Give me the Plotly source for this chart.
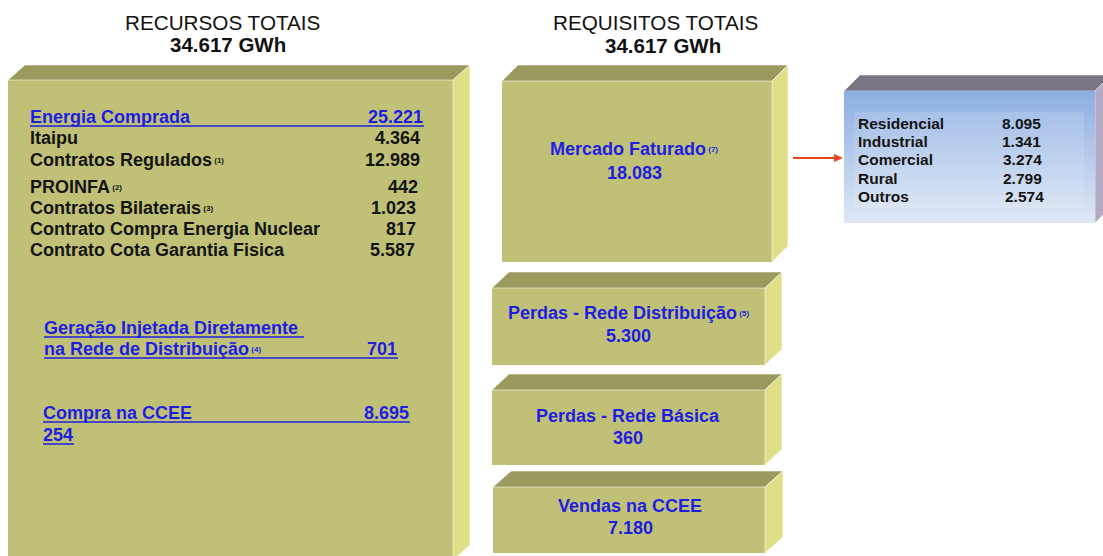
import plotly.graph_objects as go

# ---------------- data ----------------
title_left = "RECURSOS TOTAIS"
title_right = "REQUISITOS TOTAIS"
total_left = "34.617 GWh"
total_right = "34.617 GWh"

energia_label = "Energia Comprada"
energia_value = "25.221"
recursos_labels = ["Itaipu", "Contratos Regulados", "PROINFA", "Contratos Bilaterais",
                   "Contrato Compra Energia Nuclear", "Contrato Cota Garantia Fisica"]
recursos_notes = ["", "(1)", "(2)", "(3)", "", ""]
recursos_values = ["4.364", "12.989", "442", "1.023", "817", "5.587"]

geracao_lines = ["Geração Injetada Diretamente", "na Rede de Distribuição"]
geracao_note = "(4)"
geracao_value = "701"
ccee_label = "Compra na CCEE"
ccee_values = ["8.695", "254"]

req_labels = ["Mercado Faturado", "Perdas - Rede Distribuição", "Perdas - Rede Básica", "Vendas na CCEE"]
req_notes = ["(7)", "(5)", "", ""]
req_values = ["18.083", "5.300", "360", "7.180"]

classes = ["Residencial", "Industrial", "Comercial", "Rural", "Outros"]
class_values = ["8.095", "1.341", "3.274", "2.799", "2.574"]

# ---------------- layout / style ----------------
W, H = 1103, 556
FONT = "Liberation Sans, Arial, sans-serif"
BLUE = "#1e1ee2"
BLACK = "#141414"
FRONT, TOP, SIDE = "#c0c176", "#9b9a5e", "#e0df87"

# boxes: front x0, x1, y0(top), y1(bottom), depth dx, dy
left_box = dict(x0=8, x1=453, y0=80, y1=560, dx=17, dy=15)
req_boxes = [
    dict(x0=502, x1=772, y0=81, y1=262, dx=16, dy=16),
    dict(x0=492, x1=765, y0=288, y1=365, dx=17, dy=16),
    dict(x0=492, x1=765, y0=390, y1=465, dx=17, dy=16),
    dict(x0=493, x1=765, y0=487, y1=553, dx=18, dy=16),
]
blue_box = dict(x0=844, x1=1095, y0=91, y1=223, dx=16, dy=16)

shapes = []
annotations = []


def box(b, front, top, side, front_fill=True):
    x0, x1, y0, y1, dx, dy = b["x0"], b["x1"], b["y0"], b["y1"], b["dx"], b["dy"]
    if front_fill:
        shapes.append(dict(type="rect", xref="x", yref="y", x0=x0, x1=x1, y0=y0, y1=y1,
                           fillcolor=front, line=dict(width=0), layer="below"))
    shapes.append(dict(type="path", xref="x", yref="y",
                       path=f"M{x0},{y0} L{x0+dx},{y0-dy} L{x1+dx},{y0-dy} L{x1},{y0} Z",
                       fillcolor=top, line=dict(color="rgba(255,255,255,0.55)", width=1), layer="below"))
    shapes.append(dict(type="path", xref="x", yref="y",
                       path=f"M{x1},{y0} L{x1+dx},{y0-dy} L{x1+dx},{y1-dy} L{x1},{y1} Z",
                       fillcolor=side, line=dict(color="rgba(255,255,255,0.55)", width=1), layer="below"))


def text(x, y, s, color=BLACK, size=18, bold=True, anchor="left"):
    shift = {"left": -2, "right": 1, "center": 0}[anchor]
    annotations.append(dict(x=x, y=y, xref="x", yref="y", text=(f"<b>{s}</b>" if bold else s),
                            showarrow=False, xanchor=anchor, yanchor="middle", xshift=shift,
                            font=dict(family=FONT, size=size, color=color)))


def note(n):
    return f"<span style='font-size:8px;baseline-shift:3px'> {n}</span>" if n else ""


def uline(x0, x1, y):
    shapes.append(dict(type="line", xref="x", yref="y", x0=x0, x1=x1, y0=y, y1=y,
                       line=dict(color=BLUE, width=1.5)))


fig = go.Figure()

# boxes
box(left_box, FRONT, TOP, SIDE)
for b in req_boxes:
    box(b, FRONT, TOP, SIDE)
box(blue_box, None, "#7b7484", "#b3a8c3", front_fill=False)

# blue box gradient front
bb = blue_box
fig.add_trace(go.Scatter(x=[bb["x0"], bb["x1"], bb["x1"], bb["x0"], bb["x0"]],
                         y=[bb["y0"], bb["y0"], bb["y1"], bb["y1"], bb["y0"]],
                         mode="lines", line=dict(width=0), fill="toself",
                         fillgradient=dict(type="vertical",
                                           colorscale=[[0, "#dfe7f5"], [1, "#8caee2"]]),
                         hoverinfo="skip", showlegend=False))
shapes.append(dict(type="rect", xref="x", yref="y", x0=854, x1=1084, y0=112, y1=208,
                   fillcolor="rgba(255,255,255,0.13)", line=dict(width=0)))

# arrow
shapes.append(dict(type="line", xref="x", yref="y", x0=793, x1=835, y0=158, y1=158,
                   line=dict(color="#e8461e", width=2)))
shapes.append(dict(type="path", xref="x", yref="y", path="M834,154 L843,158 L834,162 Z",
                   fillcolor="#e8461e", line=dict(width=0)))

# titles
text(222, 22, title_left, size=20.7, bold=False, anchor="center", color="#111111")
text(228, 44, total_left, size=20.5, anchor="center", color="#111111")
text(655, 22, title_right, size=20.7, bold=False, anchor="center", color="#111111")
text(663, 45, total_right, size=20.5, anchor="center", color="#111111")

# left box contents
text(30, 117, energia_label, color=BLUE)
text(424, 117, energia_value, color=BLUE, anchor="right")
uline(30, 424, 126)
ys = [138, 160, 187, 208, 229, 250]
vx = [421, 421, 419, 417, 417, 416]
for lab, n, v, y, x in zip(recursos_labels, recursos_notes, recursos_values, ys, vx):
    text(30, y, f"{lab}{note(n)}")
    text(x, y, v, anchor="right")

text(44, 328, geracao_lines[0], color=BLUE)
uline(44, 304, 337)
text(44, 349, f"{geracao_lines[1]}{note(geracao_note)}", color=BLUE)
text(398, 349, geracao_value, color=BLUE, anchor="right")
uline(44, 398, 358)

text(43, 413, ccee_label, color=BLUE)
text(410, 413, ccee_values[0], color=BLUE, anchor="right")
uline(43, 410, 422)
text(43, 435, ccee_values[1], color=BLUE)
uline(43, 74, 444)

# requisitos
req_pos = [(634, 149, 173), (628, 313, 336), (628, 416, 438), (630, 506, 528)]
for lab, n, v, (cx, y1, y2) in zip(req_labels, req_notes, req_values, req_pos):
    text(cx, y1, f"{lab}{note(n)}", color=BLUE, anchor="center")
    text(cx, y2, v, color=BLUE, anchor="center")

# classes
cys = [123, 141, 159, 178, 196]
cvx = [1042, 1042, 1043, 1043, 1045]
for lab, v, y, x in zip(classes, class_values, cys, cvx):
    text(858, y, lab, size=15.5, color="#141414")
    text(x, y, v, size=15.5, color="#141414", anchor="right")

fig.update_layout(
    width=W, height=H, margin=dict(l=0, r=0, t=0, b=0),
    paper_bgcolor="white", plot_bgcolor="white",
    xaxis=dict(range=[0, W], visible=False, fixedrange=True),
    yaxis=dict(range=[H, 0], visible=False, fixedrange=True),
    shapes=shapes, annotations=annotations, showlegend=False,
)
fig.write_html("out.html", config={"displayModeBar": False},
               post_script="document.body.style.margin='0';document.body.style.overflow='hidden';")
